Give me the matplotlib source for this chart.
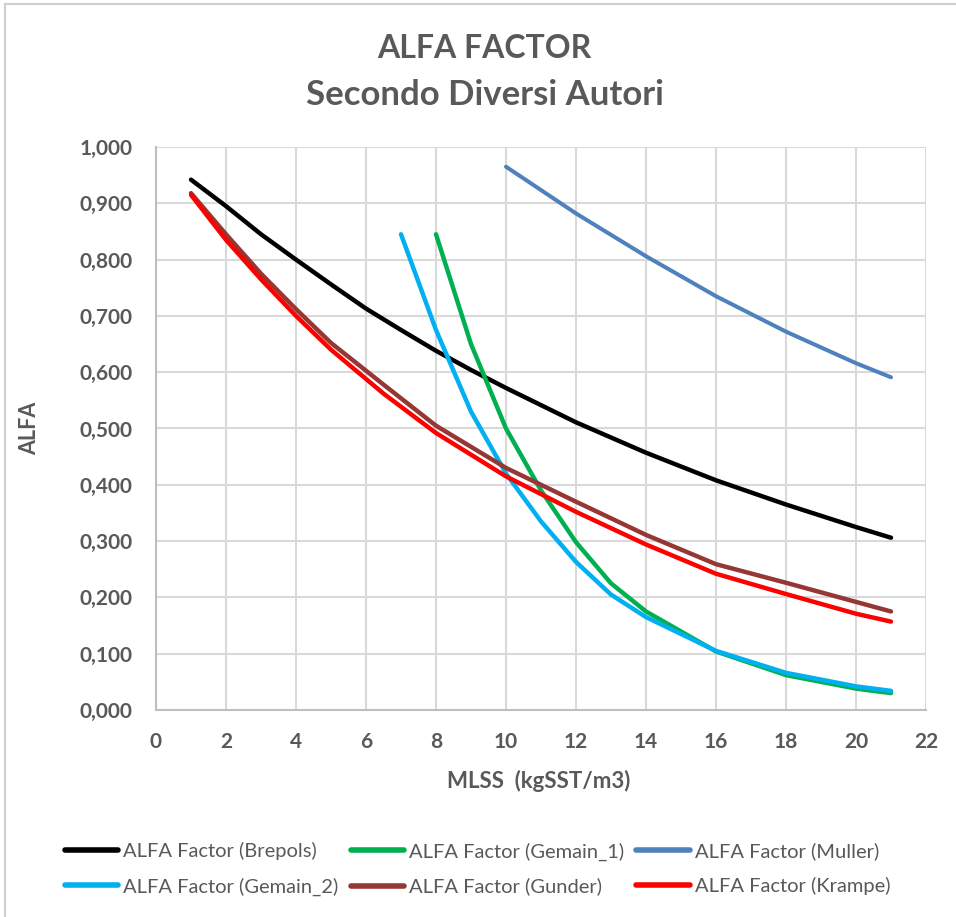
import matplotlib
matplotlib.use("Agg")
import matplotlib.pyplot as plt
from matplotlib.ticker import MultipleLocator, FuncFormatter
from matplotlib.patches import Rectangle

# MLSS (kgSST/m3) vs ALFA
x_brepols = [1, 2, 3, 4, 5, 6, 7, 8, 9, 10, 12, 14, 16, 18, 20, 21]
brepols = [0.942, 0.895, 0.845, 0.800, 0.756, 0.713, 0.675, 0.638, 0.604, 0.572,
           0.511, 0.457, 0.408, 0.365, 0.325, 0.306]

x_germain1 = [8, 9, 10, 11, 12, 13, 14, 16, 18, 20, 21]
germain1 = [0.845, 0.650, 0.500, 0.390, 0.298, 0.225, 0.175, 0.104, 0.062, 0.038, 0.030]

x_muller = [10, 12, 14, 16, 18, 20, 21]
muller = [0.965, 0.882, 0.806, 0.735, 0.672, 0.616, 0.591]

x_germain2 = [7, 8, 9, 10, 11, 12, 13, 14, 16, 18, 20, 21]
germain2 = [0.845, 0.675, 0.530, 0.420, 0.335, 0.263, 0.205, 0.165, 0.105, 0.066, 0.042, 0.034]

x_gunder = [1, 2, 3, 4, 5, 6.5, 8, 10, 12, 14, 16, 18, 20, 21]
gunder = [0.918, 0.845, 0.775, 0.712, 0.652, 0.578, 0.505, 0.430, 0.370, 0.311,
          0.259, 0.226, 0.192, 0.175]

x_krampe = [1, 2, 3, 4, 5, 6.5, 8, 10, 12, 14, 16, 18, 20, 21]
krampe = [0.915, 0.835, 0.765, 0.700, 0.640, 0.562, 0.492, 0.415, 0.352, 0.294,
          0.242, 0.206, 0.171, 0.157]

TXT = "#595959"
GRID = "#d9d9d9"
plt.rcParams['font.family'] = ['Lato', 'DejaVu Sans']

fig = plt.figure(figsize=(9.56, 9.17), dpi=100)
ax = fig.add_axes([156/956, 1-710/917, 770/956, 563/917])

lw = 3.2
ax.plot(x_brepols, brepols, color="black", lw=lw, label="ALFA Factor (Brepols)", solid_capstyle="round")
ax.plot(x_germain1, germain1, color="#00b050", lw=lw, label="ALFA Factor (Gemain_1)", solid_capstyle="round")
ax.plot(x_muller, muller, color="#4f81bd", lw=2.9, label="ALFA Factor (Muller)", solid_capstyle="round")
ax.plot(x_germain2, germain2, color="#00b0f0", lw=lw, label="ALFA Factor (Gemain_2)", solid_capstyle="round")
ax.plot(x_gunder, gunder, color="#953735", lw=lw, label="ALFA Factor (Gunder)", solid_capstyle="round")
ax.plot(x_krampe, krampe, color="#ff0000", lw=lw, label="ALFA Factor (Krampe)", solid_capstyle="round")

ax.set_xlim(0, 22)
ax.set_ylim(0, 1)
ax.xaxis.set_major_locator(MultipleLocator(2))
ax.yaxis.set_major_locator(MultipleLocator(0.1))
ax.yaxis.set_major_formatter(FuncFormatter(lambda v, p: f"{v:.3f}".replace(".", ",")))
ax.grid(True, color=GRID, lw=1.5)
ax.set_axisbelow(True)
for s in ["top", "right"]:
    ax.spines[s].set_visible(False)
for s in ["left", "bottom"]:
    ax.spines[s].set_color("#bfbfbf")
    ax.spines[s].set_linewidth(1.5)
ax.tick_params(length=0, labelsize=15, labelcolor=TXT)
ax.tick_params(axis="x", pad=16)
ax.tick_params(axis="y", pad=17)
for t in ax.get_xticklabels() + ax.get_yticklabels():
    t.set_fontweight("bold")

fig.text(0.507, 1-48/917, "ALFA FACTOR", ha="center", va="center",
         fontsize=23, fontweight="bold", color=TXT)
fig.text(0.507, 1-95/917, "Secondo Diversi Autori", ha="center", va="center",
         fontsize=25, fontweight="bold", color=TXT)
fig.text(539/956, 1-781/917, "MLSS  (kgSST/m3)", ha="center", va="center",
         fontsize=16, fontweight="bold", color=TXT)
fig.text(30/956, 1-428/917, "ALFA", ha="center", va="center", rotation=90,
         fontsize=15.5, fontweight="bold", color=TXT)

# row-wise order like Excel
h, l = ax.get_legend_handles_labels()
order = [0, 3, 1, 4, 2, 5]
leg = fig.legend([h[i] for i in order], [l[i] for i in order], ncol=3,
                 loc="center left", bbox_to_anchor=(65/956, 1-869/917),
                 frameon=False, fontsize=14.5, handlelength=2.65, handletextpad=0.25,
                 columnspacing=0.6, labelspacing=0.85, borderpad=0, borderaxespad=0)
for t in leg.get_texts():
    t.set_color(TXT)
for lh in leg.get_lines():
    lh.set_linewidth(4)

fig.patches.append(Rectangle((0.005, -0.01), 1.2, 1.006, transform=fig.transFigure,
                             fill=False, edgecolor="#d0d0d0", lw=1.5))

fig.savefig("out.png", dpi=100)
